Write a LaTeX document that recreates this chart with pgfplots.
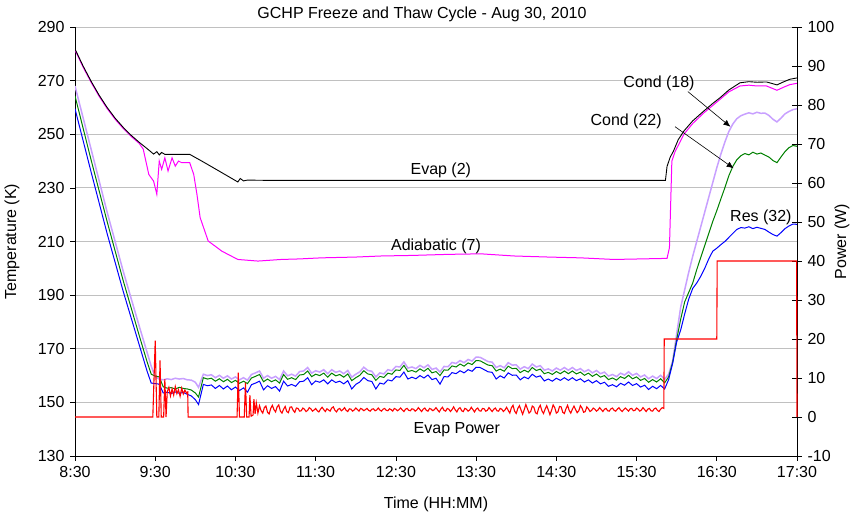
\documentclass[border=0pt]{standalone}
\usepackage{pgfplots}
\pgfplotsset{compat=1.18}
\usepackage{pgfplotstable}
\usepackage{fontspec}
\setmainfont{Liberation Sans}
\usetikzlibrary{calc,arrows.meta}
\definecolor{lav}{RGB}{200,160,255}
\definecolor{grn}{RGB}{0,128,0}
\definecolor{blu}{RGB}{0,0,255}
\definecolor{mag}{RGB}{255,0,255}
\definecolor{gridc}{RGB}{192,192,192}

\pgfplotstableread{
t T
8.50 281.8
8.60 275.5
8.70 269.8
8.80 264.6
8.90 260.0
9.00 256.0
9.10 252.6
9.20 249.6
9.30 247.0
9.40 244.6
9.48 242.6
9.52 243.5
9.55 242.3
9.58 243.2
9.62 242.5
9.93 242.5
10.08 240.0
10.30 236.2
10.53 232.2
10.56 233.5
10.60 232.6
10.65 232.9
10.90 232.8
12.00 232.8
14.00 232.8
15.86 232.8
15.88 238.0
15.92 241.5
15.96 243.7
16.02 248.0
16.09 251.2
16.20 255.0
16.34 258.7
16.45 261.5
16.54 263.6
16.65 266.5
16.79 269.2
16.90 269.6
17.00 269.4
17.12 269.5
17.18 269.0
17.25 268.4
17.33 269.5
17.41 270.5
17.50 271.0
}\evaptab

\pgfplotstableread{
t T
8.50 281.4
8.60 275.1
8.70 269.4
8.80 264.2
8.90 259.6
9.00 255.6
9.10 252.2
9.20 249.2
9.30 246.6
9.35 244.5
9.42 235.0
9.48 232.5
9.52 227.6
9.55 240.0
9.58 236.9
9.62 241.2
9.66 236.3
9.71 241.2
9.75 238.1
9.79 240.0
9.83 239.4
9.93 239.4
9.98 235.0
10.02 227.6
10.06 218.9
10.16 210.2
10.33 206.4
10.53 203.3
10.78 202.7
11.07 203.3
11.30 203.5
11.57 203.9
12.00 204.2
12.32 204.6
12.70 204.8
13.15 205.2
13.56 205.4
13.97 204.6
14.40 204.2
14.80 203.9
15.22 203.3
15.55 203.5
15.88 203.7
15.91 207.7
15.94 240.0
15.98 243.5
16.09 250.0
16.20 254.0
16.34 258.0
16.54 263.0
16.65 265.8
16.79 268.0
16.90 268.3
17.00 268.0
17.12 268.0
17.25 266.4
17.33 267.5
17.41 268.5
17.50 269.0
}\adiabtab

\pgfplotstableread{
t L G B
8.50 268.0 264.3 259.5
8.70 244.5 240.5 236.0
8.90 221.0 217.5 213.0
9.10 199.0 195.5 191.5
9.30 178.5 175.0 171.5
9.40 168.5 165.0 161.5
9.45 163.5 160.5 157.2
9.50 159.5 159.8 157.0
9.55 158.7 159.5 156.8
9.60 158.4 155.8 153.5
9.65 158.8 155.3 153.8
9.70 158.5 155.5 153.3
9.75 159.0 155.0 153.9
9.80 158.7 155.6 153.4
9.85 158.9 155.2 153.7
9.90 158.4 155.0 153.0
9.95 158.3 154.6 152.4
10.00 157.5 153.5 151.0
10.04 155.6 152.0 149.2
10.10 160.5 159.2 156.7
10.15 160.0 158.7 156.2
10.20 160.3 159.0 156.5
10.25 159.2 157.9 155.2
10.30 160.1 158.8 156.3
10.35 159.0 157.7 155.0
10.40 159.9 158.6 156.1
10.45 158.7 157.4 154.7
10.50 159.5 158.2 155.7
10.55 158.4 157.1 154.4
10.60 159.2 157.9 155.4
10.65 158.3 157.0 153.8
10.70 160.4 159.1 156.6
10.75 161.0 159.7 157.2
10.80 161.7 160.4 157.9
10.85 159.0 157.7 154.7
10.90 160.0 158.7 156.2
10.95 159.0 157.7 155.2
11.00 159.7 158.4 155.9
11.05 158.5 157.2 154.2
11.10 161.7 160.4 157.9
11.15 159.9 158.6 156.1
11.20 160.5 159.2 156.7
11.25 159.8 158.5 156.0
11.30 161.5 160.2 157.7
11.35 161.7 160.4 157.9
11.40 163.0 161.7 159.2
11.45 160.9 159.6 156.6
11.50 161.8 160.5 158.0
11.55 161.3 160.0 157.5
11.60 162.2 160.9 158.4
11.65 160.7 159.4 156.9
11.70 162.2 160.9 158.4
11.75 161.2 159.9 157.4
11.80 161.7 160.4 157.9
11.85 160.7 159.4 156.9
11.90 161.9 160.6 158.1
11.95 159.4 158.1 155.0
12.00 160.5 159.2 156.7
12.05 161.4 160.1 157.6
12.10 163.1 161.8 159.3
12.15 161.9 160.6 158.1
12.20 161.6 160.3 157.8
12.25 159.5 158.2 155.0
12.30 161.0 159.7 157.2
12.35 160.6 159.3 156.8
12.40 162.2 160.9 158.4
12.45 161.8 160.5 158.0
12.50 163.4 162.1 159.6
12.55 163.2 161.9 159.4
12.60 165.1 163.8 161.3
12.65 162.8 161.5 158.7
12.70 163.2 161.9 159.4
12.75 162.6 161.3 158.8
12.80 163.8 162.5 160.0
12.85 162.9 161.6 159.1
12.90 164.0 162.7 160.2
12.95 162.3 161.0 158.5
13.00 162.8 161.5 159.0
13.05 161.3 160.0 156.8
13.10 163.4 162.1 159.6
13.15 163.3 162.0 159.5
13.20 164.9 163.6 161.1
13.25 164.5 163.2 160.7
13.30 165.6 164.3 161.8
13.35 164.8 163.5 161.0
13.40 166.0 164.7 162.2
13.45 165.4 164.1 161.6
13.50 166.9 165.6 163.1
13.55 166.8 165.5 163.0
13.60 166.0 164.7 162.2
13.65 165.2 163.9 161.4
13.70 165.0 163.7 161.2
13.75 163.0 161.7 158.7
13.80 163.7 162.4 159.9
13.85 162.9 161.6 159.1
13.90 164.8 163.5 161.0
13.95 163.9 162.6 160.1
14.00 164.0 162.7 160.2
14.05 162.4 161.1 158.4
14.10 163.3 162.0 159.5
14.15 162.6 161.3 158.8
14.20 164.3 163.0 160.5
14.25 163.2 161.9 159.4
14.30 163.7 162.4 159.9
14.35 162.0 160.7 158.0
14.40 162.5 161.2 158.7
14.45 161.7 160.4 157.9
14.50 162.8 161.5 159.0
14.55 162.0 160.7 158.2
14.60 163.0 161.7 159.2
14.65 162.0 160.7 158.2
14.70 163.0 161.7 159.2
14.75 161.9 160.6 158.1
14.80 162.6 161.3 158.8
14.85 161.4 160.1 157.6
14.90 162.2 160.9 158.4
14.95 161.0 159.7 157.2
15.00 161.9 160.6 158.1
15.05 160.7 159.4 156.9
15.10 161.3 160.0 157.5
15.15 159.8 158.5 156.0
15.20 160.4 159.1 156.6
15.25 159.6 158.3 155.8
15.30 160.9 159.6 157.1
15.35 160.2 158.9 156.4
15.40 161.4 160.1 157.6
15.45 160.1 158.8 156.3
15.50 160.8 159.5 157.0
15.55 159.5 158.2 155.7
15.60 160.2 158.9 156.4
15.65 158.8 157.5 154.8
15.70 159.8 158.5 156.0
15.75 158.9 157.6 155.1
15.80 160.1 158.8 156.3
15.85 158.6 157.3 155.0
15.90 160.5 159.5 158.5
15.95 165.5 165.0 164.5
16.00 175.5 173.5 172.5
16.05 185.5 181.0 177.0
16.10 192.0 187.5 183.0
16.15 198.5 191.0 188.5
16.20 204.5 194.5 192.5
16.25 210.0 199.5 194.5
16.30 215.5 204.0 197.0
16.35 221.0 208.5 200.0
16.40 226.5 213.0 203.5
16.45 232.0 217.5 206.4
16.50 237.5 221.5 207.5
16.55 242.5 225.8 208.8
16.60 247.0 230.0 210.0
16.65 251.0 234.5 211.5
16.70 253.8 238.0 213.0
16.75 255.8 240.5 214.5
16.80 256.9 242.0 215.2
16.85 257.5 242.8 215.0
16.90 258.0 242.3 215.5
16.95 257.6 243.3 214.8
17.00 258.2 242.6 215.3
17.05 257.8 243.0 214.9
17.10 257.9 242.2 214.5
17.15 257.0 241.5 213.5
17.20 255.6 240.2 212.6
17.25 254.6 239.4 212.0
17.30 256.0 241.5 213.3
17.35 257.6 243.5 214.8
17.40 258.5 245.0 215.8
17.45 259.2 245.8 216.5
17.50 259.5 245.5 216.4
}\condtab

\pgfplotstableread[row sep=\\]{
t P \\
8.50 0 \\ 9.47 0 \\ 9.50 19.6 \\ 9.52 0 \\ 9.545 0 \\ 9.56 14.5 \\ 9.575 0 \\ 9.605 0 \\ 9.62 9.7 \\ 9.635 0 \\
9.65 6.5 \\ 9.67 7.6 \\ 9.69 5.4 \\ 9.71 7.2 \\ 9.73 5.6 \\ 9.75 7.8 \\ 9.77 6.0 \\ 9.79 7.0 \\ 9.81 5.3 \\ 9.83 7.4 \\
9.85 5.9 \\ 9.87 6.9 \\ 9.89 6.1 \\ 9.905 6.4 \\ 9.91 0 \\ 10.52 0 \\ 10.535 11.4 \\ 10.55 0 \\ 10.61 0 \\ 10.625 8.8 \\
10.64 0 \\ 10.67 0 \\ 10.68 5.6 \\ 10.695 0.2 \\ 10.72 0.5 \\ 10.73 4.6 \\ 10.745 0.8 \\ 10.76 3.6 \\ 10.78 1.0 \\
10.80 2.9 \\ 10.82 1.6 \\ 10.84 1.0 \\ 10.86 2.4 \\ 10.88 2.8 \\ 10.90 1.2 \\ 10.92 0.8 \\ 10.94 2.2 \\ 10.96 3.0 \\ 10.98 1.9 \\
11.00 1.3 \\ 11.02 2.6 \\ 11.04 3.1 \\ 11.06 1.5 \\ 11.08 1.0 \\ 11.10 2.0 \\ 11.12 2.7 \\ 11.14 1.4 \\ 11.16 1.1 \\ 11.18 2.5 \\
11.20 2.6 \\ 11.22 1.7 \\ 11.24 1.2 \\ 11.26 2.3 \\ 11.28 2.2 \\ 11.30 1.5 \\
11.32 1.6 \\ 11.34 2.3 \\ 11.36 2.0 \\ 11.38 1.4 \\ 11.40 1.7 \\ 11.42 2.4 \\ 11.44 2.1 \\ 11.46 1.5 \\ 11.48 1.8 \\ 11.50 2.2 \\
11.52 1.6 \\ 11.54 1.3 \\ 11.56 2.0 \\ 11.58 2.5 \\ 11.60 1.9 \\ 11.62 1.4 \\ 11.64 2.1 \\ 11.66 1.8 \\ 11.68 1.5 \\ 11.70 2.3 \\
11.72 2.6 \\ 11.74 1.7 \\ 11.76 1.3 \\ 11.78 2.0 \\ 11.80 2.2 \\ 11.82 1.6 \\ 11.84 1.9 \\ 11.86 2.4 \\ 11.88 1.7 \\ 11.90 1.4 \\
11.92 2.1 \\ 11.94 2.0 \\ 11.96 1.5 \\ 11.98 1.8 \\ 12.00 2.3 \\ 12.02 1.9 \\ 12.04 1.5 \\ 12.06 2.2 \\ 12.08 2.0 \\ 12.10 1.6 \\
12.12 1.9 \\ 12.14 2.2 \\ 12.16 1.7 \\ 12.18 1.5 \\ 12.20 2.0 \\ 12.22 2.1 \\ 12.24 1.6 \\ 12.26 1.8 \\ 12.28 2.3 \\ 12.30 1.8 \\
12.32 1.5 \\ 12.34 2.0 \\ 12.36 2.2 \\ 12.38 1.7 \\ 12.40 1.6 \\ 12.42 2.1 \\ 12.44 1.9 \\ 12.46 1.5 \\ 12.48 2.2 \\ 12.50 2.0 \\
12.52 1.6 \\ 12.54 1.9 \\ 12.56 2.3 \\ 12.58 1.8 \\ 12.60 1.4 \\ 12.62 2.0 \\ 12.64 2.2 \\ 12.66 1.7 \\ 12.68 1.6 \\ 12.70 2.1 \\
12.72 2.0 \\ 12.74 1.5 \\ 12.76 1.8 \\ 12.78 2.4 \\ 12.80 1.9 \\ 12.82 1.4 \\ 12.84 2.0 \\ 12.86 2.3 \\ 12.88 1.7 \\ 12.90 1.5 \\
12.92 2.2 \\ 12.94 2.0 \\ 12.96 1.6 \\ 12.98 1.9 \\ 13.00 2.4 \\ 13.02 1.8 \\ 13.04 1.3 \\ 13.06 2.0 \\ 13.08 2.5 \\ 13.10 1.7 \\
13.12 1.5 \\ 13.14 2.2 \\ 13.16 2.0 \\ 13.18 1.4 \\ 13.20 1.9 \\ 13.22 2.6 \\ 13.24 1.8 \\ 13.26 1.3 \\ 13.28 2.1 \\ 13.30 2.4 \\
13.32 1.6 \\ 13.34 1.4 \\ 13.36 2.2 \\ 13.38 2.0 \\ 13.40 1.5 \\ 13.42 1.8 \\ 13.44 2.5 \\ 13.46 1.9 \\ 13.48 1.3 \\ 13.50 2.0 \\
13.52 2.3 \\ 13.54 1.6 \\ 13.56 1.5 \\ 13.58 2.2 \\ 13.60 2.1 \\ 13.62 1.5 \\ 13.64 1.7 \\ 13.66 2.4 \\ 13.68 1.9 \\ 13.70 1.4 \\
13.72 2.0 \\ 13.74 2.3 \\ 13.76 1.6 \\ 13.78 1.5 \\ 13.80 2.2 \\ 13.82 2.0 \\ 13.84 1.4 \\ 13.86 1.8 \\ 13.88 2.5 \\ 13.90 1.7 \\
13.92 1.0 \\ 13.94 2.4 \\ 13.96 3.0 \\ 13.98 1.5 \\ 14.00 0.9 \\ 14.02 2.2 \\ 14.04 2.9 \\ 14.06 1.8 \\ 14.08 0.7 \\ 14.10 1.9 \\
14.12 3.2 \\ 14.14 2.1 \\ 14.16 1.0 \\ 14.18 1.4 \\ 14.20 2.8 \\ 14.22 2.5 \\ 14.24 1.1 \\ 14.26 0.8 \\ 14.28 2.3 \\ 14.30 3.0 \\
14.32 1.6 \\ 14.34 0.9 \\ 14.36 2.0 \\ 14.38 2.9 \\ 14.40 1.8 \\ 14.42 0.6 \\ 14.44 1.7 \\ 14.46 3.1 \\ 14.48 2.4 \\ 14.50 1.0 \\
14.52 1.3 \\ 14.54 2.7 \\ 14.56 2.6 \\ 14.58 1.2 \\ 14.60 0.9 \\ 14.62 2.1 \\ 14.64 3.0 \\ 14.66 1.7 \\ 14.68 1.0 \\ 14.70 2.0 \\
14.72 2.8 \\ 14.74 1.9 \\ 14.76 1.1 \\ 14.78 1.6 \\ 14.80 2.9 \\ 14.82 2.3 \\ 14.84 1.2 \\ 14.86 1.4 \\ 14.88 2.6 \\ 14.90 2.1 \\
14.92 1.4 \\ 14.94 1.7 \\ 14.96 2.3 \\ 14.98 2.0 \\ 15.00 1.5 \\ 15.02 1.8 \\ 15.04 2.4 \\ 15.06 1.9 \\ 15.08 1.4 \\ 15.10 2.0 \\
15.12 2.2 \\ 15.14 1.6 \\ 15.16 1.5 \\ 15.18 2.1 \\ 15.20 2.3 \\ 15.22 1.7 \\ 15.24 1.5 \\ 15.26 2.0 \\ 15.28 2.4 \\ 15.30 1.8 \\
15.32 1.4 \\ 15.34 1.9 \\ 15.36 2.3 \\ 15.38 1.9 \\ 15.40 1.5 \\ 15.42 2.1 \\ 15.44 2.2 \\ 15.46 1.6 \\ 15.48 1.7 \\ 15.50 2.3 \\
15.52 2.0 \\ 15.54 1.5 \\ 15.56 1.8 \\ 15.58 2.4 \\ 15.60 1.9 \\ 15.62 1.4 \\ 15.64 2.0 \\ 15.66 2.2 \\ 15.68 1.6 \\ 15.70 1.5 \\
15.72 2.1 \\ 15.74 2.3 \\ 15.76 1.7 \\ 15.78 1.4 \\ 15.80 2.0 \\ 15.82 2.4 \\ 15.84 2.2 \\
15.845 20 \\ 16.50 20 \\ 16.505 40 \\ 17.495 40 \\ 17.50 0 \\
}\powtab

\begin{document}
\fontsize{16}{19}\selectfont
\begin{tikzpicture}
\begin{axis}[
  name=main, at={(0,0)}, anchor=south west,
  scale only axis, width=722pt, height=429pt,
  xmin=8.5, xmax=17.5, ymin=130, ymax=290,
  xtick={8.5,9.5,10.5,11.5,12.5,13.5,14.5,15.5,16.5,17.5},
  xticklabels={8:30,9:30,10:30,11:30,12:30,13:30,14:30,15:30,16:30,17:30},
  ytick={130,150,170,190,210,230,250,270,290},
  axis x line*=bottom, axis y line*=left,
  ymajorgrids, grid style={gridc, line width=0.9pt},
  tick align=outside, major tick length=5pt,
  tick style={black, line width=0.7pt},
  axis line style={black, line width=0.9pt},
  tick label style={font=\fontsize{16}{19}\selectfont},
  /pgf/number format/assume math mode=true,
  clip mode=individual,
]
\addplot[lav, line width=1.5pt] table[x=t, y=L] {\condtab};
\addplot[grn, line width=1.0pt] table[x=t, y=G] {\condtab};
\addplot[blu, line width=1.0pt] table[x=t, y=B] {\condtab};
\addplot[mag, line width=1.0pt] table[x=t, y=T] {\adiabtab};
\addplot[black, line width=0.9pt] table[x=t, y=T] {\evaptab};

\node at (axis cs:13.06,236.6) {Evap (2)};
\node at (axis cs:13.0,208.3) {Adiabatic (7)};
\node at (axis cs:15.78,269.1) {Cond (18)};
\node at (axis cs:15.37,254.9) {Cond (22)};
\node at (axis cs:17.05,219.1) {Res (32)};
\node at (axis cs:13.26,140.0) {Evap Power};
\draw[-{Latex[length=7pt,width=6pt]}, line width=0.6pt] (axis cs:16.14,265.9) -- (axis cs:16.67,252.8);
\draw[-{Latex[length=7pt,width=6pt]}, line width=0.6pt] (axis cs:15.98,252.8) -- (axis cs:16.71,237.3);
\end{axis}

\begin{axis}[
  at={(0,0)}, anchor=south west,
  scale only axis, width=722pt, height=429pt,
  xmin=8.5, xmax=17.5, ymin=-10, ymax=100,
  ytick={-10,0,10,20,30,40,50,60,70,80,90,100},
  axis y line*=right, axis x line=none,
  tick align=center, major tick length=10pt,
  tick style={black, line width=0.7pt},
  axis line style={black, line width=0.9pt},
  tick label style={font=\fontsize{16}{19}\selectfont},
  /pgf/number format/assume math mode=true,
  clip=false,
]
\addplot[red, line width=1.1pt] table[x=t, y=P] {\powtab};
\end{axis}

\node at ($(main.north west)+(347pt,13pt)$) {GCHP Freeze and Thaw Cycle - Aug 30, 2010};
\node[rotate=90] at ($(main.west)+(-63pt,0)$) {Temperature (K)};
\node[rotate=90] at ($(main.east)+(45pt,0)$) {Power (W)};
\node at ($(main.south)+(0,-48pt)$) {Time (HH:MM)};

\pgfresetboundingbox
\path ($(main.south west)+(-75pt,-62pt)$) rectangle ($(main.north east)+(55pt,27pt)$);
\end{tikzpicture}
\end{document}
